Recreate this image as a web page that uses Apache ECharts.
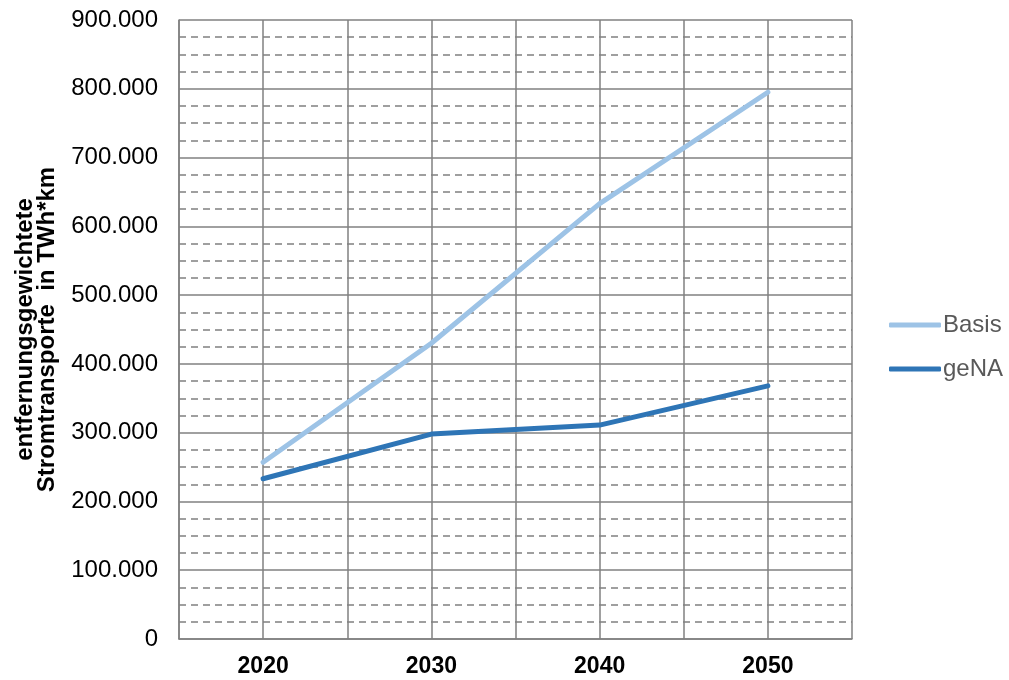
<!DOCTYPE html>
<html>
<head>
<meta charset="utf-8">
<title>Stromtransporte</title>
<script src="https://cdn.jsdelivr.net/npm/echarts@6/dist/echarts.min.js"></script>
<style>
  html, body { margin: 0; padding: 0; background: #ffffff; }
  #chart { width: 1009px; height: 680px; }
</style>
</head>
<body>
<div id="chart"></div>
<script>
// Years on the category axis
const years = ['2020', '2030', '2040', '2050'];
// Distance-weighted power transports in TWh*km
const basis = [257000, 430000, 633000, 795000];
const gena = [233000, 298000, 311000, 368000];
const seriesNames = ['Basis', 'geNA'];
const axisTitle = 'entfernungsgewichtete\nStromtransporte  in TWh*km';

const gridColor = '#808080';

function germanThousands(v) {
  if (v === 0) return '0';
  return String(v).replace(/\B(?=(\d{3})+(?!\d))/g, '.');
}

const chart = echarts.init(document.getElementById('chart'), null, { renderer: 'canvas' });

chart.setOption({
  animation: false,
  backgroundColor: '#ffffff',
  textStyle: { fontFamily: '"Liberation Sans", Arial, sans-serif' },
  grid: { left: 179, right: 157, top: 20, bottom: 41, containLabel: false },
  legend: {
    orient: 'vertical',
    left: 884,
    top: 308,
    itemGap: 20,
    itemWidth: 52,
    itemHeight: 5,
    icon: 'roundRect',
    textStyle: { fontSize: 24, color: '#595959', padding: [0, 0, 0, -3] },
    data: seriesNames
  },
  xAxis: [
    {
      type: 'category',
      data: years,
      boundaryGap: true,
      axisLine: { show: true, lineStyle: { color: gridColor, width: 1.5 } },
      axisTick: { show: false },
      splitLine: { show: false },
      axisLabel: { fontSize: 23, fontWeight: 'bold', color: '#000000', margin: 16 }
    },
    {
      // half-category grid for the vertical lines
      type: 'value',
      min: 0,
      max: 8,
      interval: 1,
      position: 'bottom',
      axisLine: { show: false },
      axisTick: { show: false },
      axisLabel: { show: false },
      splitLine: { show: true, lineStyle: { color: gridColor, width: 1.5 } }
    }
  ],
  yAxis: {
    type: 'value',
    min: 0,
    max: 900000,
    interval: 100000,
    name: axisTitle,
    nameLocation: 'middle',
    nameGap: 121,
    nameRotate: 90,
    nameTextStyle: { fontSize: 24, fontWeight: 'bold', color: '#000000', lineHeight: 22, align: 'center' },
    axisLine: { show: true, lineStyle: { color: gridColor, width: 1.5 } },
    axisTick: { show: false },
    axisLabel: { fontSize: 24, color: '#000000', margin: 21, formatter: germanThousands },
    splitLine: { show: true, lineStyle: { color: gridColor, width: 1.5 } },
    minorTick: { show: false, splitNumber: 4 },
    minorSplitLine: { show: true, lineStyle: { color: gridColor, width: 1.5, type: [7, 5] } }
  },
  series: [
    {
      name: seriesNames[0],
      type: 'line',
      data: basis,
      symbol: 'none',
      color: '#9DC3E6',
      lineStyle: { width: 5, color: '#9DC3E6', cap: 'round' },
      z: 3
    },
    {
      name: seriesNames[1],
      type: 'line',
      data: gena,
      symbol: 'none',
      color: '#2E75B6',
      lineStyle: { width: 5, color: '#2E75B6', cap: 'round' },
      z: 4
    }
  ]
});
</script>
</body>
</html>
